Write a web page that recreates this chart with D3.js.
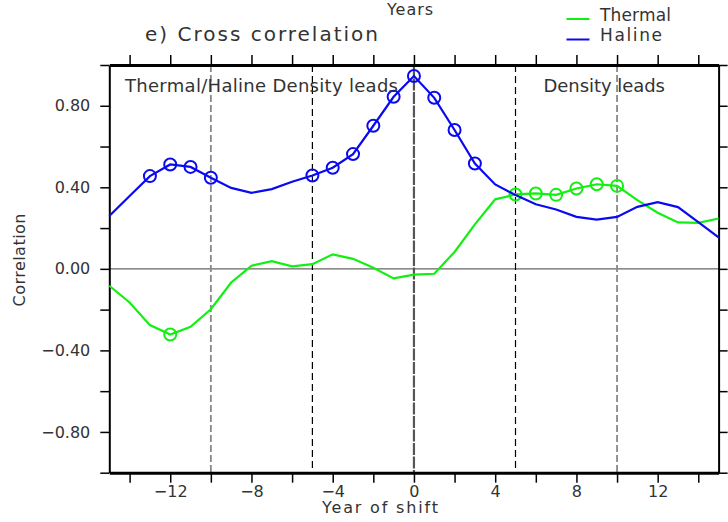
<!DOCTYPE html>
<html>
<head>
<meta charset="utf-8">
<script src="https://cdn.jsdelivr.net/npm/d3@7"></script>
<style>
  body { margin: 0; background: #fff; }
  svg { display: block; font-family: "DejaVu Sans", sans-serif; font-weight: 400; }
  text { fill: #333; }
</style>
</head>
<body>
<svg id="chart" width="728" height="522"></svg>
<script>
// lags in years, -15 .. 15
var lags = d3.range(-15, 16);

var thermal = [-0.083, -0.165, -0.276, -0.322, -0.284, -0.198, -0.067, 0.015, 0.038, 0.012,
  0.023, 0.071, 0.049, 0.005, -0.047, -0.028, -0.024, 0.083, 0.218, 0.341,
  0.365, 0.370, 0.363, 0.394, 0.415, 0.407, 0.337, 0.275, 0.228, 0.226, 0.247];

var haline = [0.259, 0.357, 0.455, 0.512, 0.500, 0.447, 0.397, 0.373, 0.391, 0.427,
  0.458, 0.496, 0.563, 0.702, 0.844, 0.946, 0.839, 0.681, 0.517, 0.414,
  0.362, 0.317, 0.291, 0.255, 0.242, 0.255, 0.304, 0.327, 0.303, 0.229, 0.154];

// lags marked with circles (significant)
var thermalMarked = [-12, 5, 6, 7, 8, 9, 10];
var halineMarked = [-13, -12, -11, -10, -5, -4, -3, -2, -1, 0, 1, 2, 3];

var xTicks = d3.range(-14, 15, 2);
var xLabels = [-12, -8, -4, 0, 4, 8, 12];
var yTicks = d3.range(-1, 1.01, 0.2).map(function(d) { return Math.round(d * 10) / 10; });
var yLabels = [-0.8, -0.4, 0, 0.4, 0.8];
var leadLines = [-10, -5, 0, 5, 10];

var series = [
  {name: "Thermal", values: thermal, marked: thermalMarked, color: "#11f011"},
  {name: "Haline", values: haline, marked: halineMarked, color: "#0a0af0"}
];

var svg = d3.select("#chart");

var x = d3.scaleLinear().domain([-15, 15]).range([109.3, 718.6]),
    y = d3.scaleLinear().domain([-1, 1]).range([472.7, 65]);

// zero line
svg.append("line")
    .attr("x1", x(-15)).attr("x2", x(15))
    .attr("y1", y(0)).attr("y2", y(0))
    .attr("stroke", "#666").attr("stroke-width", 1.2);

// vertical reference lines
var lineStyle = {
  "-10": {c: "#888", w: 1.8, d: "7,3"},
  "-5": {c: "#000", w: 1.2, d: "7,4"},
  "0": {c: "#555", w: 2.2, d: "12,1.5"},
  "5": {c: "#000", w: 1.2, d: "7,4"},
  "10": {c: "#888", w: 1.8, d: "7,3"}
};
svg.selectAll(".lead").data(leadLines).enter().append("line")
    .attr("class", "lead")
    .attr("x1", function(d) { return x(d); }).attr("x2", function(d) { return x(d); })
    .attr("y1", y(1)).attr("y2", y(-1))
    .attr("stroke", function(d) { return lineStyle[d].c; })
    .attr("stroke-width", function(d) { return lineStyle[d].w; })
    .attr("stroke-dasharray", function(d) { return lineStyle[d].d; });

// axes
var fmtX = function(d) { return xLabels.indexOf(d) >= 0 ? d3.format("d")(d) : ""; },
    fmtY = function(d) { return yLabels.indexOf(d) >= 0 ? d3.format(".2f")(d) : ""; };

function style(g, w) {
  g.select(".domain").attr("stroke", "#000").attr("stroke-width", w);
  g.selectAll(".tick line").attr("stroke", "#000").attr("stroke-width", 1.5);
  g.selectAll(".tick text").attr("fill", "#333").style("font-size", "16px")
      .style("font-family", "DejaVu Sans, sans-serif");
}

svg.append("g").attr("transform", "translate(0," + y(-1) + ")")
    .call(d3.axisBottom(x).tickValues(xTicks).tickSize(10).tickSizeOuter(0).tickPadding(3).tickFormat(fmtX))
    .call(style, 3);
svg.append("g").attr("transform", "translate(0," + y(1) + ")")
    .call(d3.axisTop(x).tickValues(xTicks).tickSize(10).tickSizeOuter(0).tickFormat(""))
    .call(style, 3);
svg.append("g").attr("transform", "translate(" + x(-15) + ",0)")
    .call(d3.axisLeft(y).tickValues(yTicks).tickSize(9).tickSizeOuter(0).tickPadding(10).tickFormat(fmtY))
    .call(style, 2);
svg.append("g").attr("transform", "translate(" + x(15) + ",0)")
    .call(d3.axisRight(y).tickValues(yTicks).tickSize(9).tickSizeOuter(0).tickFormat(""))
    .call(style, 2);

// series
var line = d3.line()
    .x(function(d, i) { return x(lags[i]); })
    .y(function(d) { return y(d); });

series.forEach(function(s) {
  svg.append("path").datum(s.values)
      .attr("d", line)
      .attr("fill", "none")
      .attr("stroke", s.color)
      .attr("stroke-width", 2.2);
  svg.selectAll(".m-" + s.name).data(s.marked).enter().append("circle")
      .attr("cx", function(d) { return x(d); })
      .attr("cy", function(d) { return y(s.values[lags.indexOf(d)]); })
      .attr("r", 6)
      .attr("fill", "none")
      .attr("stroke", s.color)
      .attr("stroke-width", 2);
});

// texts
function label(t, px, py, size, len) {
  return svg.append("text").attr("x", px).attr("y", py)
      .style("font-size", size + "px")
      .attr("textLength", len).attr("lengthAdjust", "spacing")
      .text(t);
}
label("e) Cross correlation", 145, 41, 20, 233);
label("Years", 387, 15, 16, 46);
label("Thermal/Haline Density leads", 125, 91.5, 18, 273);
label("Density leads", 543.5, 91.5, 18, 121.5);
label("Year of shift", 322, 513, 16, 116);
label("Correlation", 0, 0, 16, 93)
    .attr("transform", "translate(25,260) rotate(-90)")
    .attr("text-anchor", "middle");

// legend
series.forEach(function(s, i) {
  var ly = 19 + i * 20.5;
  svg.append("line").attr("x1", 566.5).attr("x2", 589.5)
      .attr("y1", ly).attr("y2", ly)
      .attr("stroke", s.color).attr("stroke-width", 2);
  label(s.name, 600, ly + 1.5, 17, s.name === "Thermal" ? 71 : 62);
});
</script>
</body>
</html>
